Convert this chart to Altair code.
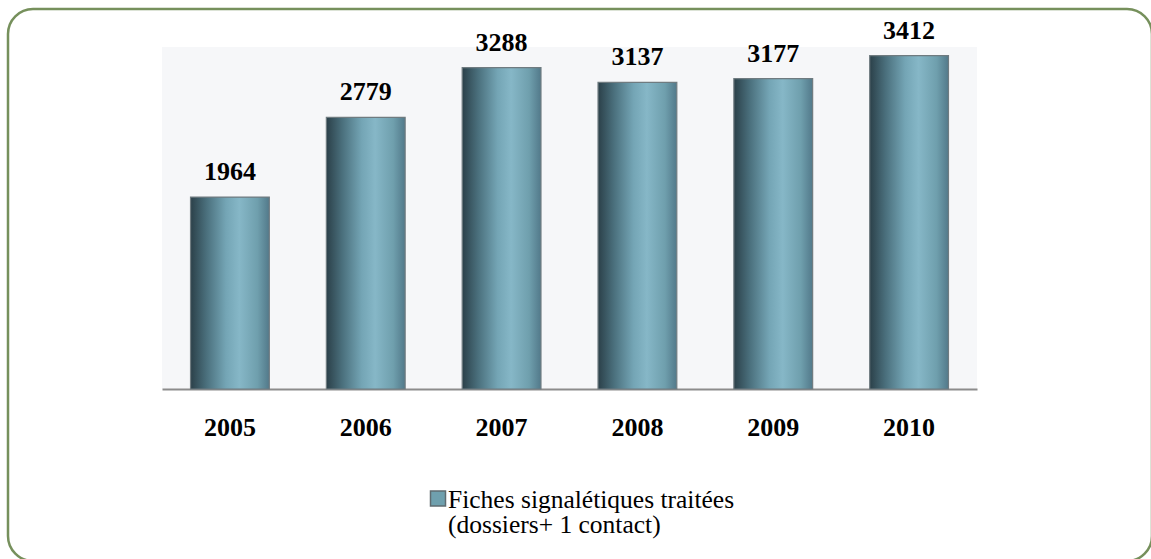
import altair as alt
import pandas as pd

# Data
years = ["2005", "2006", "2007", "2008", "2009", "2010"]
fiches = [1964, 2779, 3288, 3137, 3177, 3412]
series_lines = ["Fiches signalétiques traitées", "(dossiers+ 1 contact)"]

df = pd.DataFrame({"annee": years, "fiches": fiches})
one = pd.DataFrame({"k": [0]})

SERIF = "Liberation Serif"
W, H = 815, 342

x_enc = alt.X(
    "annee:N",
    sort=years,
    scale=alt.Scale(paddingInner=0.42, paddingOuter=0.21),
    axis=alt.Axis(
        title=None,
        ticks=False,
        labelAngle=0,
        labelFont=SERIF,
        labelFontSize=26,
        labelFontWeight="bold",
        labelColor="#000000",
        labelPadding=25,
        domainColor="#8c8c8c",
        domainWidth=2,
    ),
)
y_enc = alt.Y("fiches:Q", scale=alt.Scale(domain=[0, 3500]), axis=None)

# cylinder-like shading across each bar
cyl = alt.Gradient(
    gradient="linear",
    x1=0, x2=1, y1=0, y2=0,
    stops=[
        alt.GradientStop(offset=0.0, color="#2b4049"),
        alt.GradientStop(offset=0.2, color="#4a6f7c"),
        alt.GradientStop(offset=0.45, color="#74a5b5"),
        alt.GradientStop(offset=0.62, color="#86b7c7"),
        alt.GradientStop(offset=0.85, color="#6f9fad"),
        alt.GradientStop(offset=1.0, color="#52798a"),
    ],
)

bars = alt.Chart(df).mark_bar(
    color=cyl, stroke="#6f7b80", strokeWidth=1.2
).encode(x=x_enc, y=y_enc)

values = alt.Chart(df).mark_text(
    font=SERIF, fontSize=26, fontWeight="bold", color="#000000",
    baseline="alphabetic", dy=-17,
).encode(x=x_enc, y=y_enc, text=alt.Text("fiches:Q", format="d"))

# outer rounded frame
frame = alt.Chart(one).mark_rect(
    fill=None, stroke="#76905c", strokeWidth=2.5, cornerRadius=25, clip=False
).encode(
    x=alt.value(-154), x2=alt.value(990),
    y=alt.value(-38), y2=alt.value(514),
)

# legend
swatch = alt.Chart(one).mark_square(
    size=225, fill="#6fa0ae", stroke="#5f6b70", strokeWidth=1.5, opacity=1, clip=False
).encode(x=alt.value(276), y=alt.value(451.5))

legend_text = alt.Chart(one).mark_text(
    text=series_lines, font=SERIF, fontSize=25.5, color="#000000",
    align="left", baseline="alphabetic", lineHeight=25, clip=False,
).encode(x=alt.value(286), y=alt.value(461))

chart = (
    alt.layer(frame, bars, values, swatch, legend_text)
    .properties(
        width=W, height=H,
        autosize=alt.AutoSizeParams(type="none"),
        padding={"left": 162, "top": 47, "right": 174, "bottom": 170},
        background="#ffffff",
    )
    .configure_view(fill="#f6f7f9", stroke=None)
)

chart.save("out.html", embed_options={"renderer": "svg", "actions": False})
